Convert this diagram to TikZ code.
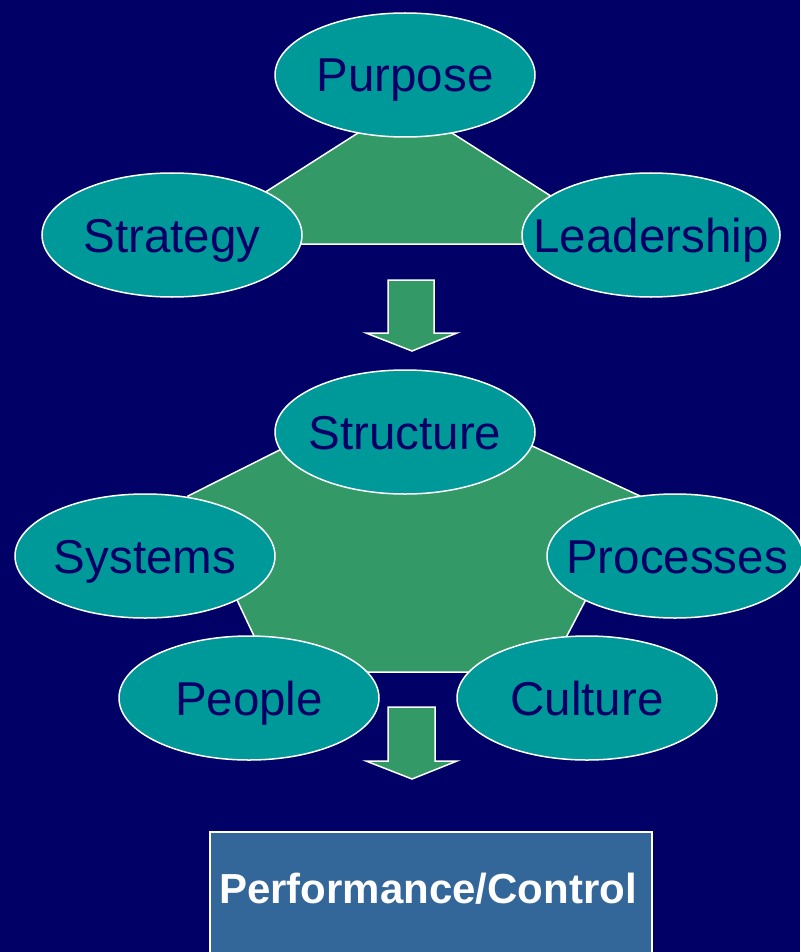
\documentclass[tikz,border=0pt]{standalone}
\usepackage{fontspec}
\setmainfont{Liberation Sans}
\definecolor{navy}{HTML}{000066}
\definecolor{tealfill}{HTML}{009999}
\definecolor{greenfill}{HTML}{339966}
\definecolor{boxfill}{HTML}{336699}
\tikzset{
  oval/.style={fill=tealfill, draw=white, line width=1.5pt},
  ovaltext/.style={text=navy, font=\fontsize{47.5}{52}\selectfont, inner sep=0pt, anchor=base},
  plate/.style={fill=greenfill, draw=white, line width=1.5pt, line join=miter},
  downarrow/.style={fill=greenfill, draw=white, line width=1.5pt, line join=miter},
}
\begin{document}
\begin{tikzpicture}[x=1pt,y=-1pt]
\useasboundingbox (0,0) rectangle (800,952);
\fill[navy] (0,0) rectangle (800,952);

% top triangle
\draw[plate] (405,103) -- (184,244) -- (626,244) -- cycle;
\coordinate (cPurpose) at (405,75);
\coordinate (cStrategy) at (172,235);
\coordinate (cLeadership) at (651,235);
\draw[oval] (cPurpose) ellipse [x radius=130, y radius=62];
\draw[oval] (cStrategy) ellipse [x radius=130, y radius=62];
\draw[oval] (cLeadership) ellipse [x radius=129, y radius=62];
\node[ovaltext] (purpose) at ([yshift=-17pt]cPurpose) {Purpose};
\node[ovaltext] (strategy) at ([yshift=-17pt]cStrategy) {Strategy};
\node[ovaltext] (leadership) at ([yshift=-17pt]cLeadership) {Leadership};

% arrow 1
\draw[downarrow] (388,280) -- (434,280) -- (434,333) -- (457,333) -- (412,351) -- (366,333) -- (388,333) -- cycle;

% pentagon
\draw[plate] (405,387) -- (640,496) -- (548,672) -- (271,672) -- (188,496) -- cycle;
\coordinate (cStructure) at (405,432);
\coordinate (cSystems) at (145,556);
\coordinate (cProcesses) at (675,556);
\coordinate (cPeople) at (249,698);
\coordinate (cCulture) at (587,698);
\draw[oval] (cStructure) ellipse [x radius=130, y radius=62];
\draw[oval] (cSystems) ellipse [x radius=130, y radius=62];
\draw[oval] (cProcesses) ellipse [x radius=128, y radius=62];
\draw[oval] (cPeople) ellipse [x radius=130, y radius=62];
\draw[oval] (cCulture) ellipse [x radius=130, y radius=62];
\node[ovaltext] (structure) at ([yshift=-17pt]cStructure) {Structure};
\node[ovaltext] (systems) at ([yshift=-17pt]cSystems) {Systems};
\node[ovaltext] (processes) at (677,573) {Processes};
\node[ovaltext] (people) at ([yshift=-17pt]cPeople) {People};
\node[ovaltext] (culture) at ([yshift=-17pt]cCulture) {Culture};

% arrow 2
\draw[downarrow] (388,707) -- (435,707) -- (435,761) -- (457,761) -- (412,779) -- (366,761) -- (388,761) -- cycle;

% result box
\draw[fill=boxfill, draw=white, line width=1.5pt] (210,832) rectangle (652,970);
\node[text=white, font=\fontsize{42}{46}\selectfont\bfseries, inner sep=0pt, anchor=base] (perf) at (428,903) {Performance/Control};
\end{tikzpicture}
\end{document}
